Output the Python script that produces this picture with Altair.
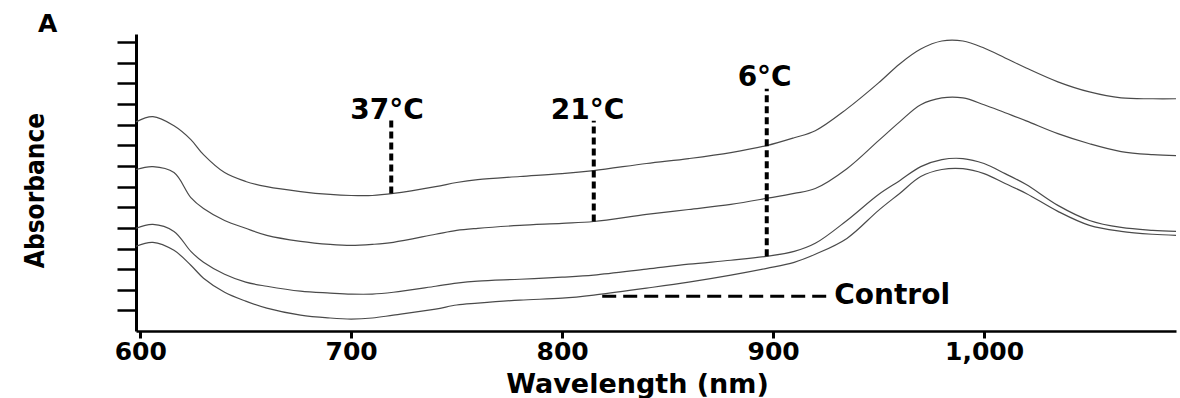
import altair as alt
import pandas as pd

# wavelength grid (nm)
wavelength = [598, 606, 616, 624, 630, 640, 650, 660, 676, 690, 700, 710, 720, 740, 750, 760,
              780, 800, 815, 840, 860, 880, 897, 910, 920, 935, 950, 960, 970, 980, 990, 1000,
              1010, 1020, 1035, 1050, 1065, 1080, 1091]

abs_37 = [1.014, 1.039, 0.995, 0.928, 0.855, 0.768, 0.725, 0.700, 0.676, 0.662, 0.657, 0.657, 0.667,
          0.700, 0.720, 0.734, 0.749, 0.763, 0.778, 0.812, 0.836, 0.865, 0.899, 0.937, 0.971, 1.077,
          1.203, 1.295, 1.367, 1.406, 1.406, 1.372, 1.324, 1.275, 1.208, 1.159, 1.130, 1.126, 1.126]
abs_21 = [0.783, 0.797, 0.768, 0.647, 0.594, 0.536, 0.498, 0.464, 0.435, 0.420, 0.415, 0.420, 0.430,
          0.469, 0.488, 0.498, 0.512, 0.522, 0.531, 0.565, 0.589, 0.614, 0.643, 0.667, 0.691, 0.787,
          0.923, 1.014, 1.097, 1.130, 1.130, 1.097, 1.058, 1.019, 0.957, 0.908, 0.870, 0.855, 0.850]
abs_6 = [0.498, 0.517, 0.483, 0.386, 0.333, 0.275, 0.237, 0.217, 0.193, 0.184, 0.179, 0.179, 0.188,
         0.217, 0.232, 0.242, 0.251, 0.261, 0.271, 0.300, 0.324, 0.343, 0.362, 0.386, 0.425, 0.536,
         0.662, 0.729, 0.797, 0.831, 0.836, 0.812, 0.763, 0.710, 0.609, 0.536, 0.502, 0.488, 0.483]
abs_control = [0.411, 0.430, 0.391, 0.319, 0.256, 0.188, 0.145, 0.111, 0.077, 0.063, 0.058, 0.063,
               0.077, 0.106, 0.126, 0.135, 0.150, 0.159, 0.174, 0.208, 0.237, 0.271, 0.304, 0.333,
               0.372, 0.449, 0.585, 0.667, 0.749, 0.783, 0.787, 0.763, 0.715, 0.667, 0.580, 0.512,
               0.483, 0.469, 0.464]

series_names = ["37°C", "21°C", "6°C", "Control"]
series_values = [abs_37, abs_21, abs_6, abs_control]

# temperature annotations (vertical dashed markers)
ann_labels = ["37°C", "21°C", "6°C"]
ann_wl = [719, 815, 897]
ann_bottom = [0.667, 0.531, 0.362]
ann_top = [1.02, 1.02, 1.175]
ann_text_wl = [717, 812, 896]
ann_text_y = [1.03, 1.03, 1.19]

# control annotation
control_line_wl = [819, 927]
control_line_y = 0.169
control_text_wl = 929
control_text_y = 0.172

x_ticks = [600, 700, 800, 900, 1000]
y_ticks = [0.1, 0.2, 0.3, 0.4, 0.5, 0.6, 0.7, 0.8, 0.9, 1.0, 1.1, 1.2, 1.3, 1.4]

rows = []
for name, vals in zip(series_names, series_values):
    for w, v in zip(wavelength, vals):
        rows.append({"wavelength": w, "absorbance": v, "series": name})
df = pd.DataFrame(rows)

ann_df = pd.DataFrame({"label": ann_labels, "wl": ann_wl, "bottom": ann_bottom, "top": ann_top,
                       "twl": ann_text_wl, "ty": ann_text_y})
ctrl_df = pd.DataFrame({"wl": [control_line_wl[0]], "wl2": [control_line_wl[1]], "y": [control_line_y],
                        "twl": [control_text_wl], "ty": [control_text_y], "label": ["Control"]})

BOLD = "DejaVu Sans"
NARROW = "DejaVu Sans Condensed, Liberation Sans Narrow, Roboto, sans-serif"
xscale = alt.Scale(domain=[598, 1091], nice=False, zero=False)
yscale = alt.Scale(domain=[0, 1.44], nice=False, zero=False)

x_axis = alt.Axis(values=x_ticks, format=",d", tickSize=7, tickWidth=3, tickColor="black",
                  domainWidth=2.5, domainColor="black", labelFont=BOLD, labelFontWeight="bold",
                  labelFontSize=25, labelColor="black", labelPadding=1, labelFlush=False,
                  labelOverlap=False, grid=False, title="Wavelength (nm)", titleFont=BOLD,
                  titleFontWeight="bold", titleFontSize=27, titleColor="black",
                  titleX=501, titleY=40)
y_axis = alt.Axis(values=y_ticks, labels=False, labelOverlap=False, tickCount=14,
                  tickSize=19, tickWidth=2.5, tickColor="black",
                  domainWidth=3, domainColor="black", grid=False, title="Absorbance",
                  titleFont=NARROW, titleFontWeight="bold", titleFontSize=26,
                  titleColor="black", titleX=-88, titleY=156)

lines = alt.Chart(df).mark_line(color="#4a4a4a", strokeWidth=1.2, interpolate="catmull-rom").encode(
    x=alt.X("wavelength:Q", scale=xscale, axis=x_axis),
    y=alt.Y("absorbance:Q", scale=yscale, axis=y_axis),
    detail="series:N",
)

vrules = alt.Chart(ann_df).mark_rule(color="black", strokeWidth=4, strokeDash=[7, 4]).encode(
    x="wl:Q", y="bottom:Q", y2="top:Q"
)
vtext = alt.Chart(ann_df).mark_text(font=BOLD, fontWeight="bold", fontSize=28, color="black",
                                    align="center", baseline="alphabetic").encode(
    x="twl:Q", y="ty:Q", text="label:N"
)
hrule = alt.Chart(ctrl_df).mark_rule(color="black", strokeWidth=3, strokeDash=[14, 7]).encode(
    x="wl:Q", x2="wl2:Q", y="y:Q"
)
htext = alt.Chart(ctrl_df).mark_text(font=BOLD, fontWeight="bold", fontSize=28, color="black",
                                     align="left", baseline="middle").encode(
    x="twl:Q", y="ty:Q", text="label:N"
)

chart = alt.layer(lines, vrules, vtext, hrule, htext).properties(
    width=1040, height=297,
    autosize=alt.AutoSizeParams(type="none"),
    padding={"left": 136, "top": 34, "right": 4, "bottom": 67},
    title=alt.TitleParams("A", anchor="start", frame="group", dx=-98, dy=7, offset=4,
                          font=BOLD, fontWeight="bold", fontSize=25, color="black"),
    background="white",
).configure_view(stroke=None)

chart.save("out.html", embed_options={"renderer": "svg", "actions": False})
